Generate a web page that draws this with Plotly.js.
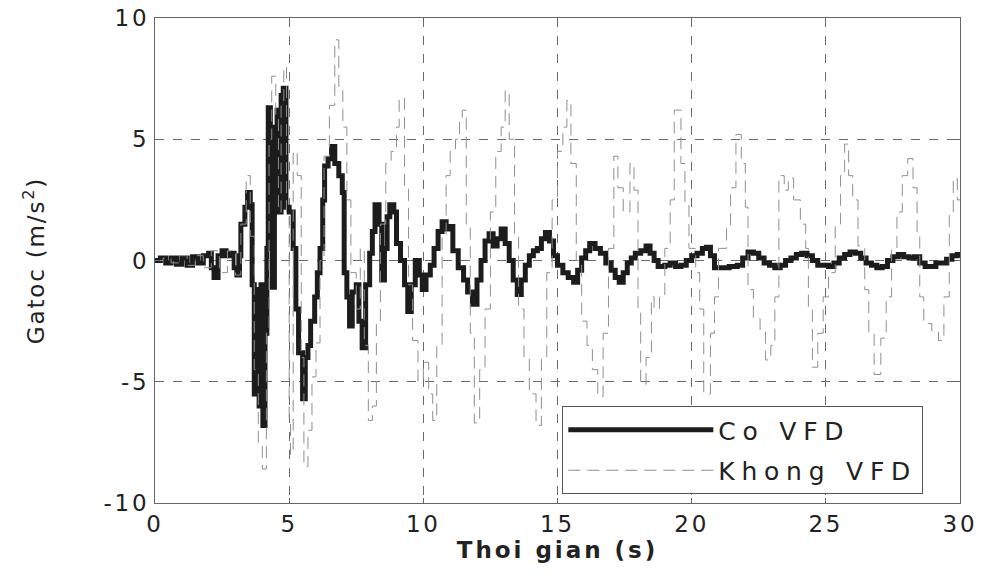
<!DOCTYPE html>
<html>
<head>
<meta charset="utf-8">
<script src="https://cdn.plot.ly/plotly-3.0.1.min.js"></script>
<style>
html,body{margin:0;padding:0;background:#fff;}
#chart{width:982px;height:579px;}
.xtick text, .ytick text{letter-spacing:0.12em;}
text.legendtext{letter-spacing:0.27em;}
text.xtitle{letter-spacing:0.13em;}
text.ytitle{letter-spacing:0.08em;}
</style>
</head>
<body>
<div id="chart"></div>
<script>
// Co VFD (thick black staircase)
var coTime = [0,0.2,0.4,0.6,0.8,1.0,1.2,1.4,1.6,1.8,2.0,2.1,2.2,2.35,2.5,2.65,2.8,2.95,3.05,3.15,3.2,3.35,3.45,3.55,3.62,3.7,3.8,3.88,3.95,4.02,4.1,4.17,4.22,4.3,4.38,4.45,4.55,4.62,4.7,4.78,4.88,5.0,5.15,5.25,5.35,5.5,5.6,5.7,5.8,5.95,6.05,6.15,6.25,6.32,6.45,6.58,6.7,6.85,6.98,7.05,7.15,7.25,7.35,7.5,7.6,7.72,7.85,8.0,8.1,8.2,8.35,8.45,8.55,8.65,8.75,8.9,9.0,9.15,9.3,9.42,9.55,9.7,9.85,9.96,10.1,10.26,10.4,10.55,10.7,10.85,11.0,11.1,11.3,11.5,11.65,11.83,12.0,12.15,12.3,12.45,12.6,12.75,12.9,13.05,13.2,13.35,13.5,13.65,13.8,13.95,14.1,14.25,14.4,14.55,14.7,14.85,15.0,15.2,15.4,15.6,15.75,15.9,16.05,16.2,16.4,16.6,16.8,17.0,17.15,17.3,17.45,17.6,17.75,17.9,18.1,18.3,18.45,18.6,18.75,19.0,19.2,19.4,19.6,19.8,20.0,20.2,20.4,20.55,20.7,20.85,21.1,21.4,21.7,21.9,22.1,22.3,22.5,22.7,22.9,23.1,23.3,23.5,23.7,23.9,24.1,24.3,24.5,24.7,24.9,25.1,25.3,25.5,25.7,25.9,26.1,26.3,26.5,26.7,26.9,27.1,27.3,27.5,27.7,27.9,28.1,28.3,28.5,28.7,28.9,29.1,29.3,29.5,29.7,29.9,30];
var coAccel = [0,0.1,-0.1,0.1,-0.15,0.1,-0.2,0.15,-0.1,0.2,0.3,-0.3,-0.7,0.2,0.4,0.2,0.3,-0.3,-0.6,0.2,1.5,2.2,2.8,2.3,-1.0,-5.5,-1.2,-6.0,-1.0,-6.8,-3.0,0.5,6.3,5.5,-1.1,5.0,6.2,2.0,6.8,7.1,2.2,2.0,0.5,-2.0,-3.8,-5.7,-4.0,-3.5,-2.5,-1.5,-0.5,0.5,2.5,3.9,4.2,4.7,4.0,3.5,2.8,-0.5,-1.5,-2.7,-1.3,-1.0,-2.5,-3.6,-1.0,0.3,1.2,2.3,1.5,-0.8,0.5,1.8,2.3,2.0,0.7,0.0,-1.0,-2.1,-1.0,0.0,-0.6,-1.2,-0.6,-0.2,0.5,1.2,1.6,1.3,1.4,0.4,-0.3,-0.8,-1.3,-1.8,-0.8,0.0,0.8,1.1,0.6,0.9,1.3,0.7,0.0,-0.8,-1.4,-0.8,-0.2,0.2,0.4,0.5,0.9,1.15,0.8,0.2,-0.2,-0.5,-0.7,-0.9,-0.4,0.1,0.4,0.7,0.5,0.3,-0.1,-0.4,-0.7,-0.9,-0.5,-0.1,0.1,0.3,0.4,0.6,0.3,0.0,-0.25,-0.2,-0.1,-0.25,-0.2,0.0,0.2,0.3,0.5,0.55,0.2,-0.3,-0.3,-0.25,-0.2,0.1,0.35,0.3,0.1,-0.1,-0.2,-0.3,-0.2,0.0,0.1,0.25,0.3,0.2,0.0,-0.2,-0.2,-0.25,-0.1,0.1,0.25,0.35,0.3,0.1,-0.1,-0.2,-0.3,-0.25,0.0,0.15,0.25,0.15,0.1,0.15,-0.1,-0.25,-0.25,-0.1,-0.1,0.05,0.2,0.25,0.25];

// Khong VFD (thin grey dashed staircase)
var khTime = [0,0.3,0.6,0.9,1.2,1.5,1.8,2.1,2.4,2.7,3.0,3.2,3.4,3.55,3.7,3.85,4.0,4.15,4.25,4.35,4.5,4.6,4.7,4.8,4.9,5.0,5.05,5.15,5.3,5.45,5.55,5.7,5.85,6.0,6.15,6.3,6.5,6.7,6.85,7.0,7.15,7.3,7.5,7.65,7.8,7.95,8.1,8.25,8.4,8.6,8.8,9.0,9.1,9.3,9.45,9.6,9.8,10.0,10.2,10.35,10.5,10.7,10.85,11.0,11.2,11.35,11.45,11.6,11.75,11.9,12.1,12.3,12.5,12.7,12.9,13.05,13.2,13.4,13.55,13.75,13.95,14.2,14.4,14.6,14.8,15.0,15.2,15.35,15.5,15.7,15.9,16.1,16.3,16.5,16.7,16.9,17.1,17.25,17.45,17.7,17.85,18.0,18.1,18.3,18.5,18.6,18.8,19.0,19.2,19.35,19.6,19.75,19.9,20.15,20.3,20.45,20.7,20.85,21.0,21.3,21.45,21.65,21.85,22.0,22.1,22.3,22.55,22.75,22.95,23.1,23.25,23.45,23.6,23.8,24.05,24.25,24.35,24.5,24.7,24.9,25.1,25.35,25.55,25.7,25.85,26.0,26.2,26.45,26.6,26.8,27.05,27.25,27.45,27.65,27.85,28.05,28.25,28.4,28.5,28.65,28.95,29.2,29.4,29.6,29.75,29.9,30];
var khAccel = [0,0.1,-0.1,0.2,-0.2,0.2,-0.3,0.4,-0.5,0.4,-0.6,1.5,3.5,1.0,-4.5,-7.5,-8.6,-3.0,5.0,7.6,6.0,2.0,6.5,8.0,2.0,-6.5,-8.0,4.5,3.5,-4.0,-8.5,-7.0,-4.8,-3.4,0.0,4.3,6.4,9.1,7.0,5.5,2.5,-0.5,-2.0,0.5,-3.5,-6.6,-6.0,-2.5,1.5,4.0,4.5,5.5,6.7,3.0,-1.0,-3.3,-5.0,-4.2,-5.5,-6.6,-3.5,1.0,3.5,4.5,5.0,5.8,6.2,1.5,-3.0,-6.7,-4.5,-2.0,2.0,4.5,5.5,7.0,5.0,1.0,-2.0,-4.0,-5.5,-6.8,-4.0,-0.5,2.5,4.5,5.5,6.6,4.0,0.0,-2.5,-3.5,-4.5,-5.6,-3.0,0.5,4.3,3.0,2.0,4.0,2.9,-2.0,-5.1,-4.0,-1.5,-2.0,-1.4,0.5,2.5,6.2,4.0,2.3,0.5,-0.5,-2.0,-5.5,-3.0,-1.5,0.5,1.4,3.0,5.2,4.0,2.2,-1.2,-2.4,-2.9,-4.1,-3.5,-1.5,3.5,2.9,3.4,2.5,1.5,0.5,-2.0,-4.4,-3.0,-1.5,-0.5,1.5,3.5,4.8,3.5,2.5,0.6,-1.2,-3.0,-4.7,-3.2,-1.5,0.5,2.0,3.5,4.2,3.0,1.0,-1.5,-2.6,-2.9,-3.3,-1.5,2.0,3.4,2.5,2.5];

var xTicks = [0,5,10,15,20,25,30];
var yTicks = [-10,-5,0,5,10];

var traces = [
  {x: coTime, y: coAccel, name: 'Co VFD', mode: 'lines', legendgroup: 'a',
   line: {color: '#1c1c1c', width: 5, shape: 'hv'}},
  {x: khTime, y: khAccel, name: 'Khong VFD', mode: 'lines', legendgroup: 'b',
   line: {color: '#8f8f8f', width: 1, shape: 'hv', dash: '12px,7px'}}
];

var fontFam = 'DejaVu Sans, Arial, sans-serif';
var layout = {
  width: 982, height: 579,
  margin: {l: 155, r: 22, t: 18, b: 76},
  paper_bgcolor: '#ffffff', plot_bgcolor: '#ffffff',
  showlegend: true,
  font: {family: fontFam, color: '#222', size: 23},
  xaxis: {
    range: [0, 30], tickvals: xTicks, ticktext: xTicks.map(String),
    showgrid: true, gridcolor: '#6a6a6a', griddash: 'dash', gridwidth: 1,
    zeroline: false, showline: true, mirror: 'ticks', linecolor: '#666', linewidth: 1,
    ticks: 'inside', ticklen: 5, tickcolor: '#666',
    tickfont: {size: 23, color: '#222'},
    title: {text: '<b>Thoi gian (s)</b>', font: {size: 23, color: '#222'}, standoff: 4}
  },
  yaxis: {
    range: [-10, 10], tickvals: yTicks, ticktext: yTicks.map(String),
    showgrid: true, gridcolor: '#6a6a6a', griddash: 'dash', gridwidth: 1,
    zeroline: false, showline: true, mirror: 'ticks', linecolor: '#666', linewidth: 1,
    ticks: 'inside', ticklen: 5, tickcolor: '#666',
    tickfont: {size: 23, color: '#222'},
    title: {text: 'Gatoc (m/s<sup>2</sup>)', font: {size: 23, color: '#222'}, standoff: 52}
  },
  legend: {
    x: 0.506, y: 0.2, xanchor: 'left', yanchor: 'top',
    bgcolor: '#ffffff', bordercolor: '#555', borderwidth: 1,
    font: {size: 25, color: '#222'}, itemwidth: 145,
    tracegroupgap: 5
  }
};

Plotly.newPlot('chart', traces, layout, {displayModeBar: false, staticPlot: true});
</script>
</body>
</html>
